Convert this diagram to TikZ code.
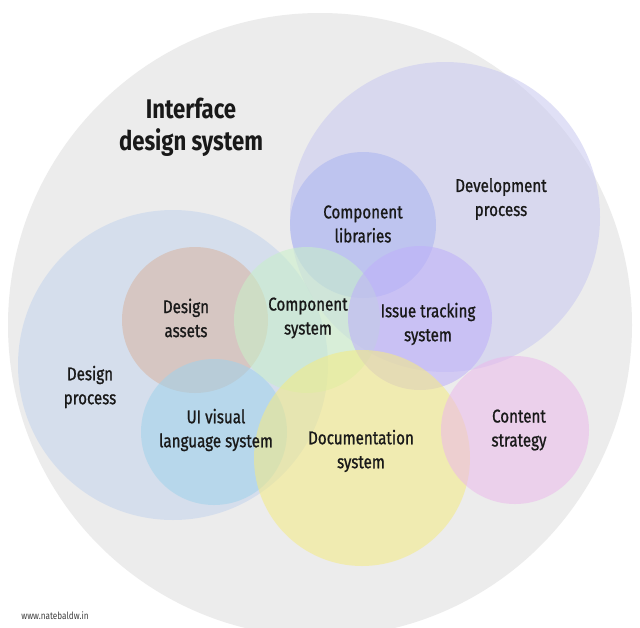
\documentclass[tikz,border=0pt]{standalone}
\usepackage{fontspec}
\setmainfont[FakeStretch=0.82]{Fira Sans}
\begin{document}
\begin{tikzpicture}[x=1pt,y=-1pt,
  circ/.style={circle,minimum size=#1,inner sep=0pt,fill opacity=0.55},
  lab/.style={align=center,font=\fontsize{18.5}{24}\selectfont\addfontfeature{FakeBold=1},text=black!90}]
\useasboundingbox (0,0) rectangle (640,627);
\fill[white] (0,0) rectangle (640,627);
\node[circle,minimum size=624,inner sep=0pt,fill={rgb,255:red,236;green,236;blue,236}] (big) at (320,325) {};
\node[circ=310,fill={rgb,255:red,200;green,200;blue,240}] (dev) at (445,217) {};
\node[circ=310,fill={rgb,255:red,195;green,212;blue,236}] (dp) at (173,365) {};
\node[circ=146,fill={rgb,255:red,170;green,180;blue,240}] (cl) at (363,225) {};
\node[circ=146,fill={rgb,255:red,215;green,180;blue,160}] (da) at (195,320) {};
\node[circ=146,fill={rgb,255:red,200;green,240;blue,200}] (cs) at (307,320) {};
\node[circ=144,fill={rgb,255:red,190;green,175;blue,250}] (it) at (420,318) {};
\node[circ=146,fill={rgb,255:red,160;green,210;blue,235}] (ui) at (214,432) {};
\node[circ=216,fill={rgb,255:red,245;green,235;blue,130}] (ds) at (362,458) {};
\node[circ=148,fill={rgb,255:red,235;green,185;blue,235}] (ct) at (515,430) {};
\node[align=center,font=\fontsize{27}{32}\selectfont\bfseries,text=black!90] (title) at (191,127) {Interface\\design system};
\node[lab] at (501,199) {Development\\process};
\node[lab] at (363,224) {Component\\libraries};
\node[lab] at (186,318) {Design\\assets};
\node[lab] at (308,318) {Component\\system};
\node[lab] at (428,324) {Issue tracking\\system};
\node[lab] at (90,387) {Design\\process};
\node[lab] at (216,430) {UI visual\\language system};
\node[lab] at (361,451) {Documentation\\system};
\node[lab] at (519,430) {Content\\strategy};
\node[font=\fontsize{10}{11}\selectfont,text=black!75] (foot) at (55,616) {www.natebaldw.in};
\end{tikzpicture}
\end{document}
